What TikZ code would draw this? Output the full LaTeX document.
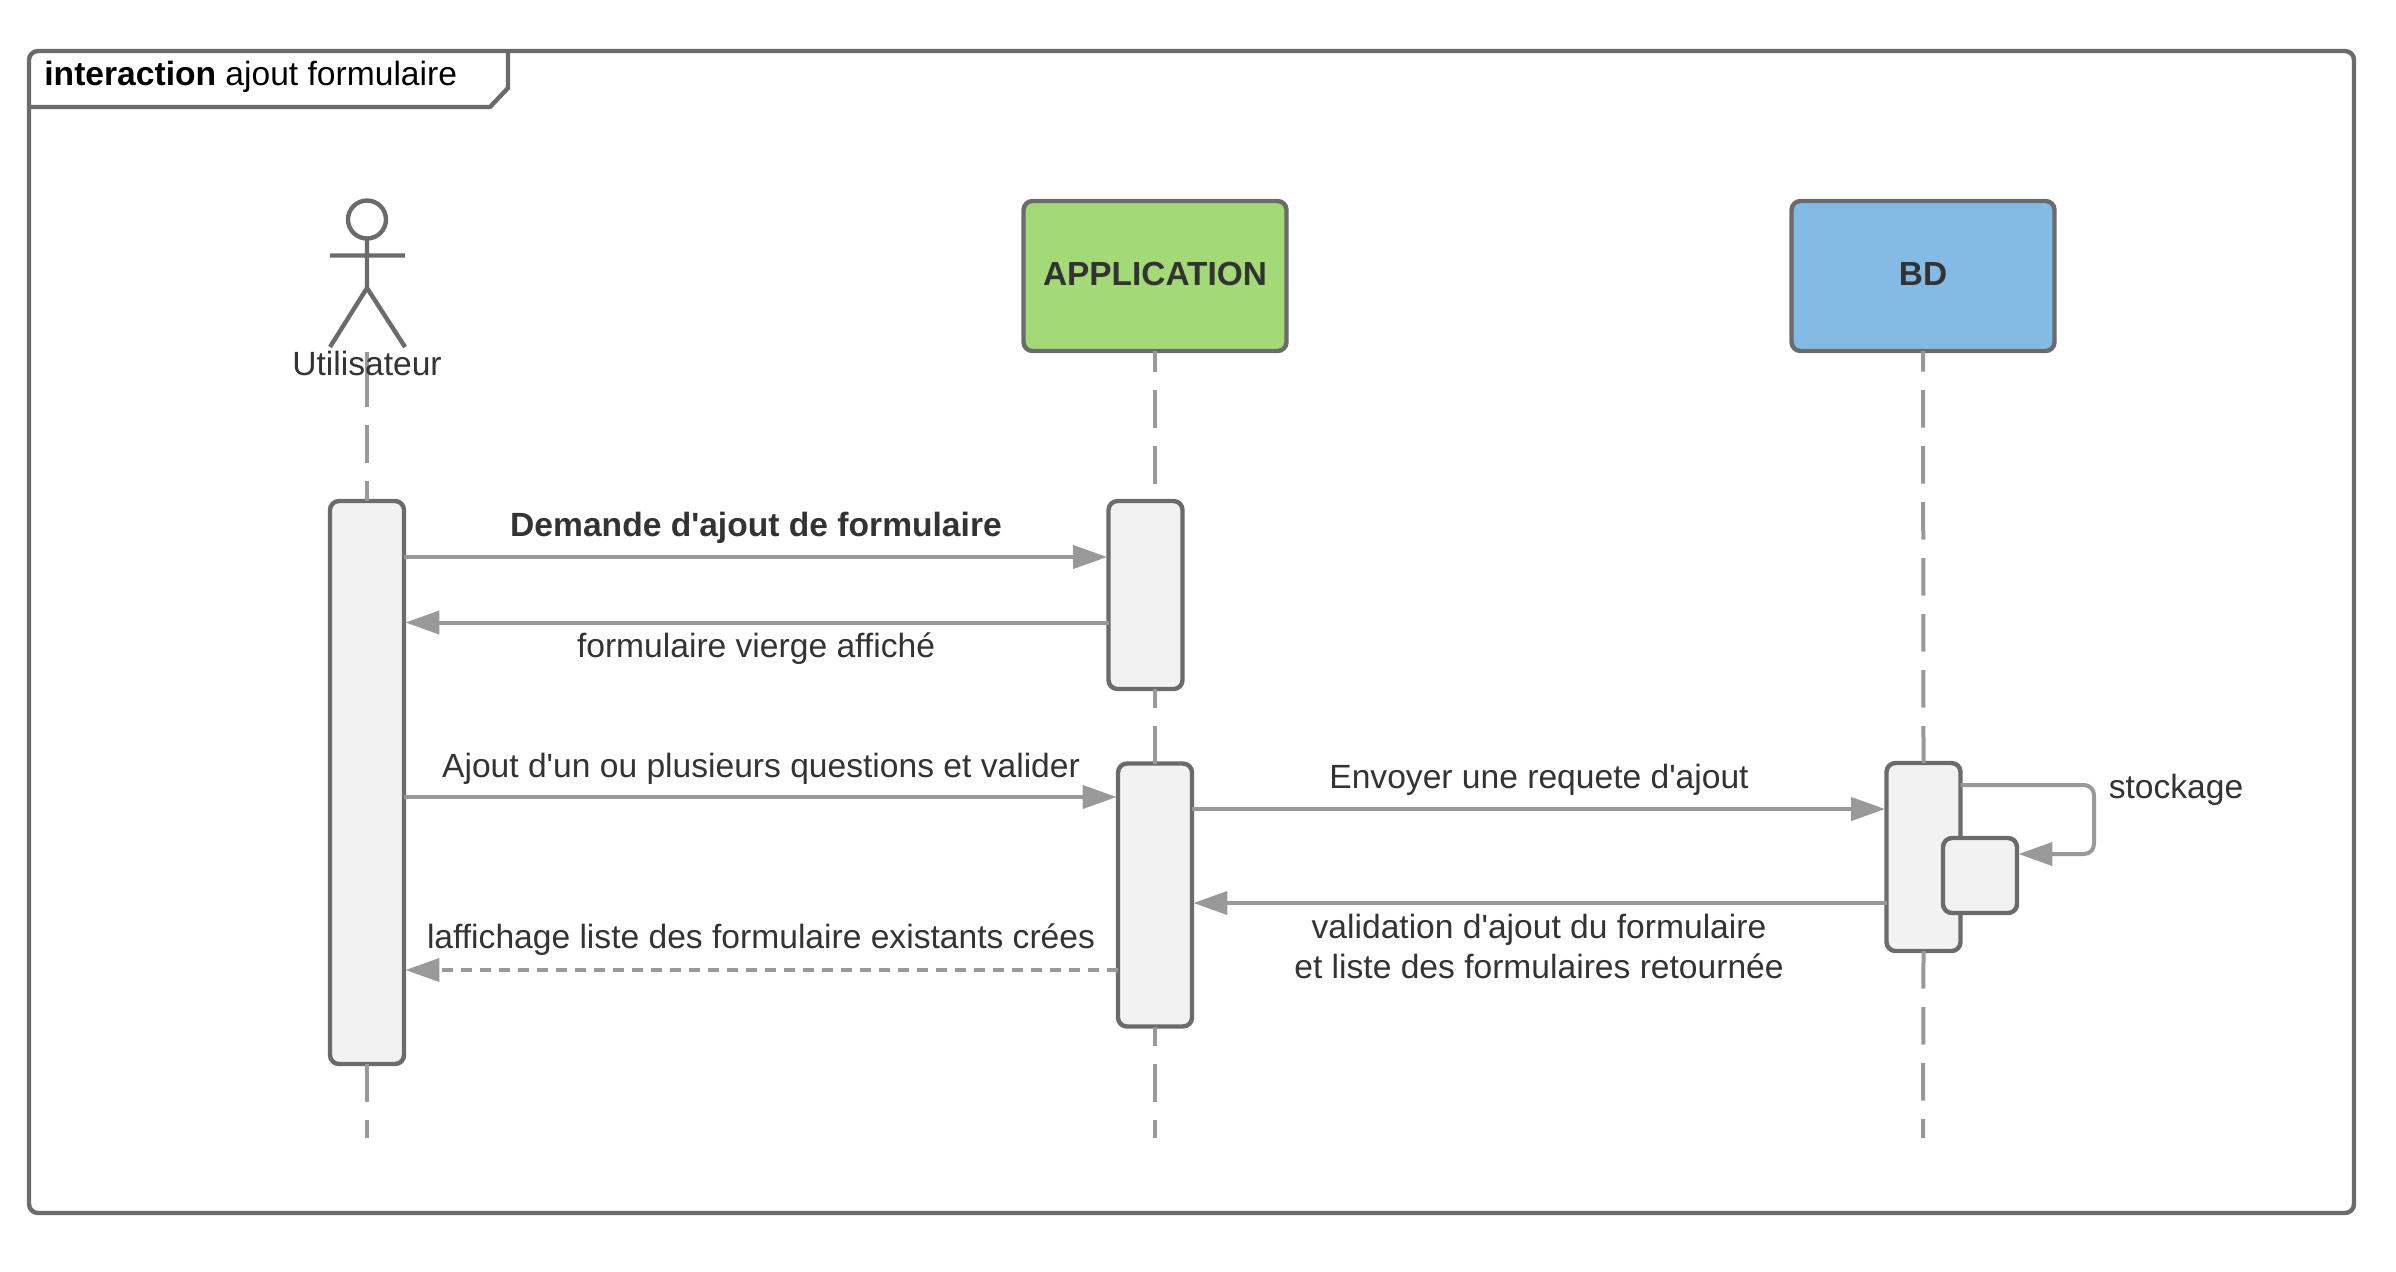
\documentclass[tikz,border=0pt]{standalone}
\usepackage{fontspec}
\setmainfont{Liberation Sans}[Ligatures=TeXOff]
\usetikzlibrary{arrows.meta}
\definecolor{bord}{HTML}{6B6B6B}
\definecolor{trait}{HTML}{999999}
\definecolor{fond}{HTML}{F2F2F2}
\definecolor{texte}{HTML}{333333}
\definecolor{vert}{HTML}{A3D977}
\definecolor{bleu}{HTML}{83BBE5}
\newcommand{\corps}{\fontsize{16.8}{20}\selectfont}
\tikzset{
  bloc/.style={draw=bord,line width=2.2pt,rounded corners=4.5pt,outer sep=0pt,inner sep=0pt},
  activ/.style={bloc,fill=fond,minimum width=37pt},
  objet/.style={bloc,minimum width=131.5pt,minimum height=75pt,font=\fontsize{16.7}{20}\selectfont\bfseries,text=texte},
  vie/.style={draw=trait,line width=2pt,dash pattern=on 18.75pt off 9.25pt},
  msg/.style={draw=trait,line width=2pt,shorten >=0.7pt,-{Triangle[length=17pt,width=11.5pt,fill=trait]}},
  lab/.style={text=texte,inner sep=0pt,align=center}
}
\begin{document}
\begin{tikzpicture}[x=.5pt,y=.5pt,font=\corps]  % ------ interaction ajout formulaire --------------
    \useasboundingbox (0,0) rectangle (2396,-1271);

    \coordinate (F1) at (29,-51);
    \coordinate (F2) at (2354,-1213);
    \coordinate (T1) at (29,-107);
    \coordinate (T2) at (490,-107);
    \coordinate (T3) at (508,-88);
    \coordinate (T4) at (508,-51);

    \draw [draw=bord,line width=2.2pt,rounded corners=4.5pt] (F1) rectangle (F2);
    \draw [draw=bord,line width=2.2pt] (T1) -- (T2) -- (T3) -- (T4);
    \node (titre) [anchor=west,inner sep=0pt] at (44,-77) {\textbf{interaction} ajout formulaire};

    % acteur
    \coordinate (Cou) at (367,-238.5);
    \coordinate (Bassin) at (367,-288);
    \coordinate (BrasG) at (330,-255.5);
    \coordinate (BrasD) at (405,-255.5);
    \coordinate (PiedG) at (330,-347);
    \coordinate (PiedD) at (405,-347);
    \draw [draw=bord,line width=2.2pt] (367,-219.5) circle (19);
    \draw [draw=bord,line width=2.2pt] (Cou) -- (Bassin) (BrasG) -- (BrasD) (PiedG) -- (Bassin) -- (PiedD);

    % lignes de vie
    \coordinate (V0) at (367,-369);
    \coordinate (V1) at (367,-352);
    \coordinate (V2) at (367,-1138);
    \coordinate (V3) at (1155,-1138);
    \coordinate (V4) at (1923,-1138);

    \node (app) [objet,fill=vert] at (1155,-276) {\raisebox{2.5pt}{APPLICATION}};
    \node (bd) [objet,fill=bleu] at (1923,-276) {\raisebox{2.5pt}{BD}};

    \node (actA) [activ,minimum height=281.5pt] at (367,-782.5) {};
    \node (appA) [activ,minimum height=94pt] at (1145.5,-595) {};
    \node (appB) [activ,minimum height=131.5pt] at (1155,-895) {};
    \node (bdA) [activ,minimum height=94pt] at (1923.5,-857) {};
    \node (bdB) [activ,minimum height=37.5pt] at (1980,-875.5) {};

    \draw [vie] (V0) -- (actA.north);
    \draw [draw=trait,line width=2pt] (V1) -- (V0);
    \draw [vie] (actA.south) -- (V2);
    \draw [vie,dash phase=8.5pt] (app.south) -- (1155,-500);
    \draw [vie,dash phase=9.5pt] (1155,-689) -- (appB.north);
    \draw [vie,dash phase=9.25pt] (appB.south) -- (V3);
    \draw [vie,dash phase=8.5pt] (bd.south) -- (bdA.north);
    \draw [vie] (bdA.south) -- (V4);

    \node (utilisateur) [lab] at (367,-363) {Utilisateur};

    % messages
    \coordinate (M1) at (0,-557);
    \coordinate (M2) at (0,-622.5);
    \coordinate (M3) at (0,-797);
    \coordinate (M4) at (0,-809);
    \coordinate (M5) at (0,-903);
    \coordinate (M6) at (0,-970);
    \coordinate (S1) at (2094,-785);
    \coordinate (S2) at (2094,-854);

    \draw [msg] (actA.east |- M1) -- (appA.west |- M1);
    \draw [msg] (appA.west |- M2) -- (actA.east |- M2);
    \draw [msg] (actA.east |- M3) -- (appB.west |- M3);
    \draw [msg] (appB.east |- M4) -- (bdA.west |- M4);
    \draw [msg] (bdA.west |- M5) -- (appB.east |- M5);
    \draw [msg,dash pattern=on 5.5pt off 4pt] (appB.west |- M6) -- (actA.east |- M6);
    \draw [msg,rounded corners=5pt] (bdA.east |- S1) -- (S1) -- (S2) -- (bdB.east |- S2);

    \node (l1) [lab,font=\corps\bfseries] at (756,-528) {Demande d'ajout de formulaire};
    \node (l2) [lab] at (756,-648.5) {formulaire vierge affiché};
    \node (l3) [lab] at (761,-768.5) {Ajout d'un ou plusieurs questions et valider};
    \node (l4) [lab] at (1539,-780) {Envoyer une requete d'ajout};
    \node (l5) [lab] at (1539,-946) {validation d'ajout du formulaire\\et liste des formulaires retournée};
    \node (l6) [lab] at (761,-940) {laffichage liste des formulaire existants crées};
    \node (l7) [lab] at (2176,-790) {stockage};
\end{tikzpicture}
\end{document}
